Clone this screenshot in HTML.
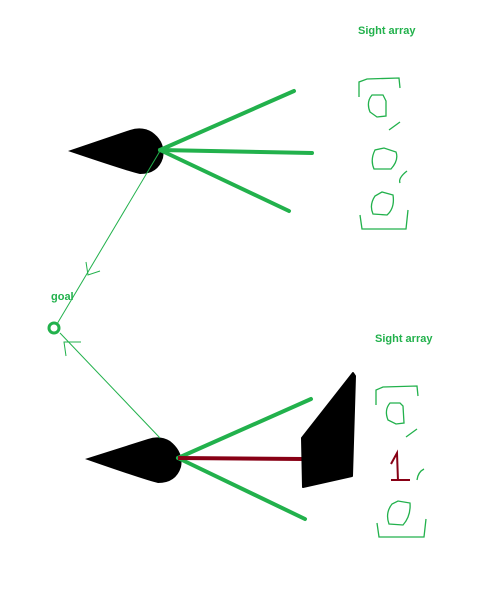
<!DOCTYPE html>
<html><head><meta charset="utf-8"><style>
html,body{margin:0;padding:0;background:#fff;width:498px;height:609px;overflow:hidden}
text{font-family:"Liberation Sans",sans-serif;font-weight:bold;font-size:11px;fill:#22b14c}
</style></head><body>
<svg width="498" height="609" viewBox="0 0 498 609" xmlns="http://www.w3.org/2000/svg">
<g>
<path d="M68,151 L130,130 Q142,126 152,132 Q166,142 163,158 Q158,174 140,174 Q130,172 68,151 Z" fill="#000"/>
<g stroke="#22b14c" stroke-width="4" stroke-linecap="round">
<line x1="160" y1="150" x2="294" y2="91"/>
<line x1="160" y1="150" x2="312" y2="153"/>
<line x1="160" y1="150" x2="289" y2="211"/>
</g>
</g>
<g>
<path d="M85,459 L148,439 Q160,435 170,441 Q184,452 181,467 Q176,483 158,483 Q148,481 85,459 Z" fill="#000"/>
<g stroke="#22b14c" stroke-width="4" stroke-linecap="round">
<line x1="178" y1="458" x2="311" y2="399"/>
<line x1="178" y1="458" x2="305" y2="519"/>
</g>
<line x1="178" y1="458" x2="303" y2="459" stroke="#880015" stroke-width="4"/>
</g>
<polygon points="302,438 353,373 355,376 352,476 303,487" fill="#000" stroke="#000" stroke-width="2" stroke-linejoin="round"/>
<g stroke="#22b14c" stroke-width="1" fill="none">
<line x1="160" y1="151" x2="57" y2="324"/>
<polyline points="86,262 88,275 100,271"/>
<line x1="160" y1="438" x2="60" y2="333"/>
<polyline points="66,356 64,342 81,342"/>
</g>
<circle cx="54" cy="328" r="5" fill="none" stroke="#22b14c" stroke-width="3"/>
<text x="51" y="300">goal</text>
<text x="358" y="34">Sight array</text>
<text x="375" y="342">Sight array</text>
<g stroke="#22b14c" stroke-width="1.3" fill="none">
<path d="M359,97 L359,82 L367,79 L399,78 L400,88"/>
<path d="M372,95 Q366,102 370,112 L377,117 L386,116 L386,101 L383,95 Z"/>
<path d="M389,130 L400,122"/>
<path d="M375,150 Q370,160 374,169 L391,169 Q399,160 396,152 L384,148 Z"/>
<path d="M400,183 Q398,178 407,171"/>
<path d="M375,196 Q369,205 373,214 L387,215 Q395,208 393,195 L382,192 Z"/>
<path d="M360,215 L362,229 L406,229 L408,210"/>
</g>
<g stroke="#22b14c" stroke-width="1.3" fill="none">
<path d="M376,405 L376,390 L383,387 L417,386 L418,396"/>
<path d="M390,403 Q384,410 388,420 L396,424 L404,423 L403,406 L400,403 Z"/>
<path d="M406,437 L417,429"/>
<path d="M417,480 Q418,472 424,469"/>
<path d="M392,504 Q385,513 389,524 L403,525 Q411,516 410,503 L398,501 Z"/>
<path d="M377,523 L379,537 L424,537 L426,519"/>
</g>
<g stroke="#880015" stroke-width="2" fill="none">
<path d="M391,464 L397,453 L398,481"/>
<path d="M391,480 L410,480"/>
</g>
</svg>
</body></html>
